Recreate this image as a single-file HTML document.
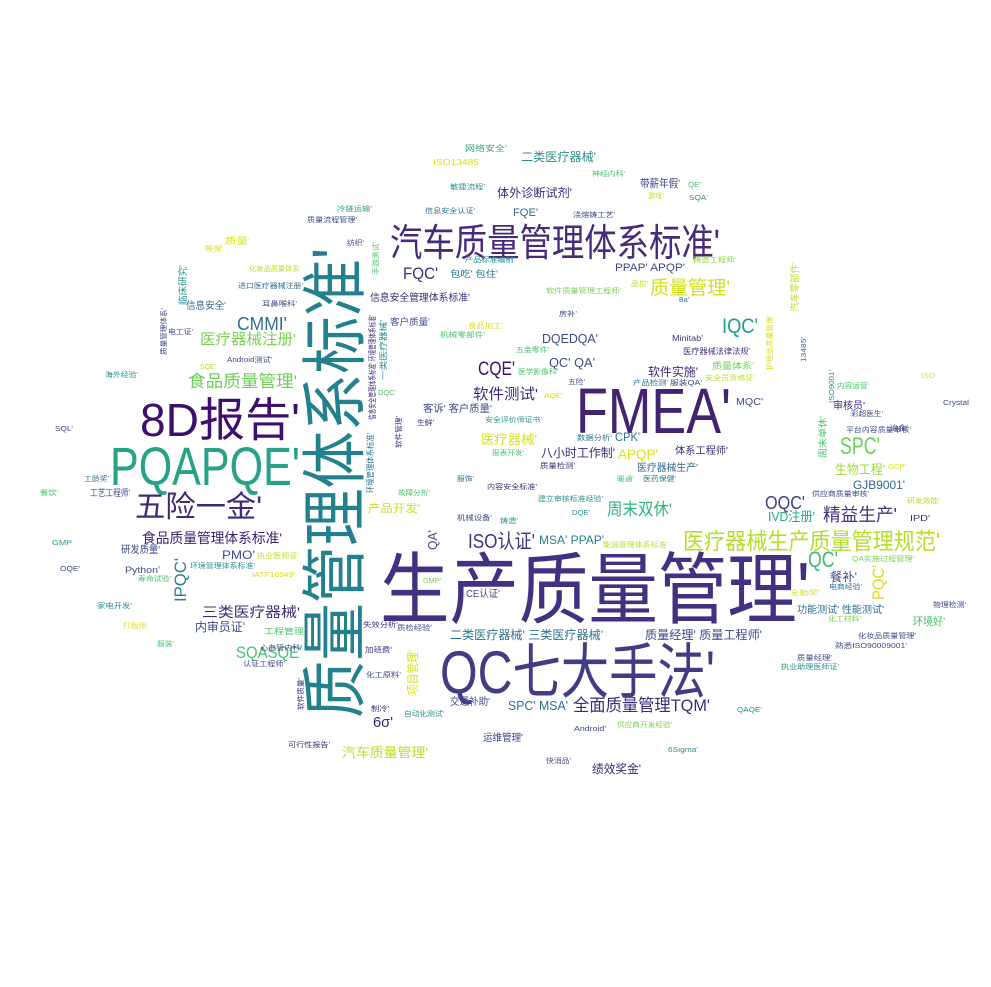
<!DOCTYPE html>
<html><head><meta charset="utf-8"><style>
html,body{margin:0;padding:0;background:#fff;width:991px;height:987px;overflow:hidden}
svg text{font-family:"Liberation Sans","Noto Sans CJK SC",sans-serif}
</style></head><body>
<svg width="991" height="987" viewBox="0 0 991 987" xmlns="http://www.w3.org/2000/svg">
<rect width="991" height="987" fill="#fff"/>
<g lengthAdjust="spacingAndGlyphs">
<text x="380" y="617" font-size="78" textLength="430" lengthAdjust="spacingAndGlyphs" fill="#433080">生产质量管理'</text>
<text x="440" y="693" font-size="60" textLength="275" lengthAdjust="spacingAndGlyphs" fill="#433c85">QC七大手法'</text>
<text x="576" y="433" font-size="64" textLength="155" lengthAdjust="spacingAndGlyphs" fill="#42236f">FMEA'</text>
<text x="140" y="436" font-size="46" textLength="160" lengthAdjust="spacingAndGlyphs" fill="#3e0f6c">8D报告'</text>
<text x="110" y="485" font-size="54" textLength="190" lengthAdjust="spacingAndGlyphs" fill="#28a287">PQAPQE'</text>
<text x="390" y="256" font-size="38" textLength="330" lengthAdjust="spacingAndGlyphs" fill="#472a7a">汽车质量管理体系标准'</text>
<text x="135" y="517" font-size="30" textLength="127" lengthAdjust="spacingAndGlyphs" fill="#402a78">五险一金'</text>
<text transform="translate(358,718) rotate(-90)" font-size="66" textLength="470" lengthAdjust="spacingAndGlyphs" fill="#23818d">质量管理体系标准'</text>
<text x="683" y="549" font-size="23" textLength="257" lengthAdjust="spacingAndGlyphs" fill="#b5de2b">医疗器械生产质量管理规范'</text>
<text x="468" y="548" font-size="20" textLength="67" lengthAdjust="spacingAndGlyphs" fill="#46307e">ISO认证'</text>
<text x="142" y="543" font-size="14" textLength="140" lengthAdjust="spacingAndGlyphs" fill="#3b1f6e">食品质量管理体系标准'</text>
<text x="823" y="521" font-size="18" textLength="74" lengthAdjust="spacingAndGlyphs" fill="#46307e">精益生产'</text>
<text x="607" y="515" font-size="17" textLength="65" lengthAdjust="spacingAndGlyphs" fill="#2fb47c">周末双休'</text>
<text x="765" y="509" font-size="18" textLength="40" lengthAdjust="spacingAndGlyphs" fill="#3f3b84">OQC'</text>
<text x="768" y="521" font-size="13" textLength="47" lengthAdjust="spacingAndGlyphs" fill="#22a884">IVD注册'</text>
<text x="840" y="454" font-size="24" textLength="40" lengthAdjust="spacingAndGlyphs" fill="#6ece58">SPC'</text>
<text x="835" y="474" font-size="13" textLength="50" lengthAdjust="spacingAndGlyphs" fill="#a0da39">生物工程'</text>
<text x="853" y="489" font-size="12" textLength="52" lengthAdjust="spacingAndGlyphs" fill="#31688e">GJB9001'</text>
<text x="808" y="567" font-size="22" textLength="30" lengthAdjust="spacingAndGlyphs" fill="#3dbc74">QC'</text>
<text transform="translate(884,600) rotate(-90)" font-size="17" textLength="35" lengthAdjust="spacingAndGlyphs" fill="#d8e219">PQC'</text>
<text transform="translate(186,602) rotate(-90)" font-size="17" textLength="44" lengthAdjust="spacingAndGlyphs" fill="#277f8e">IPQC'</text>
<text x="202" y="617" font-size="14" textLength="98" lengthAdjust="spacingAndGlyphs" fill="#3e2a78">三类医疗器械'</text>
<text x="195" y="631" font-size="12" textLength="50" lengthAdjust="spacingAndGlyphs" fill="#3e4989">内审员证'</text>
<text x="236" y="658" font-size="17" textLength="66" lengthAdjust="spacingAndGlyphs" fill="#48c16e">SQASQE'</text>
<text x="373" y="727" font-size="15" textLength="20" lengthAdjust="spacingAndGlyphs" fill="#3b1f6e">6σ'</text>
<text x="342" y="757" font-size="13" textLength="86" lengthAdjust="spacingAndGlyphs" fill="#b8de29">汽车质量管理'</text>
<text x="573" y="711" font-size="17" textLength="137" lengthAdjust="spacingAndGlyphs" fill="#3e2a78">全面质量管理TQM'</text>
<text x="508" y="710" font-size="13" textLength="60" lengthAdjust="spacingAndGlyphs" fill="#2c728e">SPC' MSA'</text>
<text x="483" y="741" font-size="10" textLength="40" lengthAdjust="spacingAndGlyphs" fill="#3e4989">运维管理'</text>
<text x="592" y="773" font-size="12" textLength="49" lengthAdjust="spacingAndGlyphs" fill="#3e2a78">绩效奖金'</text>
<text x="645" y="639" font-size="12" textLength="117" lengthAdjust="spacingAndGlyphs" fill="#3e4989">质量经理' 质量工程师'</text>
<text x="450" y="639" font-size="12" textLength="153" lengthAdjust="spacingAndGlyphs" fill="#2c728e">二类医疗器械' 三类医疗器械'</text>
<text x="466" y="597" font-size="10" textLength="34" lengthAdjust="spacingAndGlyphs" fill="#3e4989">CE认证'</text>
<text x="539" y="544" font-size="12" textLength="65" lengthAdjust="spacingAndGlyphs" fill="#287d8e">MSA' PPAP'</text>
<text x="200" y="344" font-size="15" textLength="96" lengthAdjust="spacingAndGlyphs" fill="#7ad151">医疗器械注册'</text>
<text x="237" y="330" font-size="18" textLength="50" lengthAdjust="spacingAndGlyphs" fill="#2c728e">CMMI'</text>
<text x="188" y="387" font-size="17" textLength="109" lengthAdjust="spacingAndGlyphs" fill="#6ece58">食品质量管理'</text>
<text x="403" y="279" font-size="17" textLength="35" lengthAdjust="spacingAndGlyphs" fill="#3e2a78">FQC'</text>
<text x="650" y="294" font-size="19" textLength="80" lengthAdjust="spacingAndGlyphs" fill="#d2e21b">质量管理'</text>
<text x="722" y="333" font-size="21" textLength="36" lengthAdjust="spacingAndGlyphs" fill="#1f9e89">IQC'</text>
<text x="478" y="375" font-size="19" textLength="37" lengthAdjust="spacingAndGlyphs" fill="#3b0f70">CQE'</text>
<text x="473" y="399" font-size="15" textLength="65" lengthAdjust="spacingAndGlyphs" fill="#3e2a78">软件测试'</text>
<text x="648" y="376" font-size="12" textLength="50" lengthAdjust="spacingAndGlyphs" fill="#3e2a78">软件实施'</text>
<text x="549" y="367" font-size="13" textLength="46" lengthAdjust="spacingAndGlyphs" fill="#3e4989">QC' QA'</text>
<text x="542" y="343" font-size="13" textLength="56" lengthAdjust="spacingAndGlyphs" fill="#3e4989">DQEDQA'</text>
<text x="541" y="457" font-size="12" textLength="74" lengthAdjust="spacingAndGlyphs" fill="#3e2a78">八小时工作制'</text>
<text x="618" y="459" font-size="14" textLength="40" lengthAdjust="spacingAndGlyphs" fill="#d8e219">APQP'</text>
<text x="481" y="444" font-size="13" textLength="56" lengthAdjust="spacingAndGlyphs" fill="#d8e219">医疗器械'</text>
<text x="615" y="441" font-size="12" textLength="25" lengthAdjust="spacingAndGlyphs" fill="#2c728e">CPK'</text>
<text x="675" y="454" font-size="10" textLength="53" lengthAdjust="spacingAndGlyphs" fill="#3e2a78">体系工程师'</text>
<text x="637" y="471" font-size="10" textLength="61" lengthAdjust="spacingAndGlyphs" fill="#31688e">医疗器械生产'</text>
<text x="615" y="271" font-size="11" textLength="70" lengthAdjust="spacingAndGlyphs" fill="#3e4989">PPAP' APQP'</text>
<text x="521" y="161" font-size="12" textLength="75" lengthAdjust="spacingAndGlyphs" fill="#2c8e8c">二类医疗器械'</text>
<text x="497" y="197" font-size="12" textLength="75" lengthAdjust="spacingAndGlyphs" fill="#3e2a78">体外诊断试剂'</text>
<text x="513" y="216" font-size="11" textLength="25" lengthAdjust="spacingAndGlyphs" fill="#31688e">FQE'</text>
<text x="640" y="187" font-size="11" textLength="40" lengthAdjust="spacingAndGlyphs" fill="#3e4989">带薪年假'</text>
<text x="370" y="301" font-size="10" textLength="100" lengthAdjust="spacingAndGlyphs" fill="#3e2a78">信息安全管理体系标准'</text>
<text x="390" y="325" font-size="9" textLength="40" lengthAdjust="spacingAndGlyphs" fill="#3e4989">客户质量'</text>
<text x="423" y="412" font-size="10" textLength="69" lengthAdjust="spacingAndGlyphs" fill="#3e4989">客诉' 客户质量'</text>
<text x="368" y="512" font-size="11" textLength="52" lengthAdjust="spacingAndGlyphs" fill="#c8e020">产品开发'</text>
<text transform="translate(437,550) rotate(-90)" font-size="13" textLength="20" lengthAdjust="spacingAndGlyphs" fill="#3e4989">QA'</text>
<text x="833" y="409" font-size="10" textLength="32" lengthAdjust="spacingAndGlyphs" fill="#3e2a78">审核员'</text>
<text x="222" y="559" font-size="12" textLength="33" lengthAdjust="spacingAndGlyphs" fill="#3e4989">PMO'</text>
<text x="121" y="553" font-size="10" textLength="39" lengthAdjust="spacingAndGlyphs" fill="#3e4989">研发质量'</text>
<text x="125" y="573" font-size="9" textLength="35" lengthAdjust="spacingAndGlyphs" fill="#3e4989">Python'</text>
<text transform="translate(417,695) rotate(-90)" font-size="12" textLength="45" lengthAdjust="spacingAndGlyphs" fill="#d8e219">项目管理'</text>
<text x="186" y="309" font-size="10" textLength="40" lengthAdjust="spacingAndGlyphs" fill="#31688e">信息安全'</text>
<text x="90" y="496" font-size="9" textLength="40" lengthAdjust="spacingAndGlyphs" fill="#3e4989">工艺工程师'</text>
<text x="913" y="625" font-size="11" textLength="32" lengthAdjust="spacingAndGlyphs" fill="#4ac16d">环境好'</text>
<text x="797" y="613" font-size="10" textLength="87" lengthAdjust="spacingAndGlyphs" fill="#2c728e">功能测试' 性能测试'</text>
<text x="450" y="705" font-size="10" textLength="40" lengthAdjust="spacingAndGlyphs" fill="#3e4989">交通补助'</text>
<text x="683" y="354" font-size="8" textLength="67" lengthAdjust="spacingAndGlyphs" fill="#46307e">医疗器械法律法规'</text>
<text x="672" y="341" font-size="8" textLength="31" lengthAdjust="spacingAndGlyphs" fill="#46307e">Minitab'</text>
<text x="736" y="405" font-size="10" textLength="27" lengthAdjust="spacingAndGlyphs" fill="#3e4989">MQC'</text>
<text x="830" y="581" font-size="12" textLength="27" lengthAdjust="spacingAndGlyphs" fill="#3e4989">餐补'</text>
<text x="465" y="151" font-size="8" textLength="42" lengthAdjust="spacingAndGlyphs" fill="#3aa37a">网络安全'</text>
<text x="433" y="165" font-size="8" textLength="48" lengthAdjust="spacingAndGlyphs" fill="#d8e219">ISO13485'</text>
<text x="450" y="189" font-size="7" textLength="35" lengthAdjust="spacingAndGlyphs" fill="#2c8e8c">敏捷流程'</text>
<text x="425" y="213" font-size="7" textLength="50" lengthAdjust="spacingAndGlyphs" fill="#2c728e">信息安全认证'</text>
<text x="337" y="211" font-size="7" textLength="35" lengthAdjust="spacingAndGlyphs" fill="#2aa382">冷链运输'</text>
<text x="307" y="222" font-size="7" textLength="50" lengthAdjust="spacingAndGlyphs" fill="#3e4989">质量流程管理'</text>
<text x="225" y="244" font-size="9" textLength="25" lengthAdjust="spacingAndGlyphs" fill="#d8e219">质量'</text>
<text x="249" y="271" font-size="7" textLength="52" lengthAdjust="spacingAndGlyphs" fill="#b8de29">化妆品质量体系'</text>
<text x="238" y="288" font-size="7" textLength="65" lengthAdjust="spacingAndGlyphs" fill="#31688e">进口医疗器械注册'</text>
<text x="262" y="306" font-size="7" textLength="35" lengthAdjust="spacingAndGlyphs" fill="#3e4989">耳鼻喉科'</text>
<text x="450" y="277" font-size="9" textLength="48" lengthAdjust="spacingAndGlyphs" fill="#2c728e">包吃' 包住'</text>
<text x="546" y="293" font-size="7" textLength="75" lengthAdjust="spacingAndGlyphs" fill="#7ad151">软件质量管理工程师'</text>
<text x="693" y="262" font-size="7" textLength="43" lengthAdjust="spacingAndGlyphs" fill="#8ed645">铸造工程师'</text>
<text x="573" y="217" font-size="7" textLength="42" lengthAdjust="spacingAndGlyphs" fill="#3e4989">浇熔铸工艺'</text>
<text x="592" y="176" font-size="7" textLength="33" lengthAdjust="spacingAndGlyphs" fill="#4ac16d">神经内科'</text>
<text x="705" y="380" font-size="7" textLength="50" lengthAdjust="spacingAndGlyphs" fill="#b8de29">安全员资格证'</text>
<text x="712" y="369" font-size="9" textLength="42" lengthAdjust="spacingAndGlyphs" fill="#6ece58">质量体系'</text>
<text transform="translate(798,312) rotate(-90)" font-size="9" textLength="50" lengthAdjust="spacingAndGlyphs" fill="#b8de29">汽车零部件'</text>
<text transform="translate(772,370) rotate(-90)" font-size="7" textLength="55" lengthAdjust="spacingAndGlyphs" fill="#d8e219">护理品质量管理'</text>
<text transform="translate(806,362) rotate(-90)" font-size="7" textLength="25" lengthAdjust="spacingAndGlyphs" fill="#2c728e">13485'</text>
<text transform="translate(834,403) rotate(-90)" font-size="7" textLength="33" lengthAdjust="spacingAndGlyphs" fill="#2c8e8c">ISO9001'</text>
<text transform="translate(826,458) rotate(-90)" font-size="9" textLength="42" lengthAdjust="spacingAndGlyphs" fill="#4ac16d">周末单休'</text>
<text x="846" y="432" font-size="7" textLength="65" lengthAdjust="spacingAndGlyphs" fill="#3e4989">平台内容质量审核'</text>
<text x="943" y="405" font-size="7" textLength="26" lengthAdjust="spacingAndGlyphs" fill="#3e4989">Crystal</text>
<text x="812" y="496" font-size="7" textLength="57" lengthAdjust="spacingAndGlyphs" fill="#3e4989">供应商质量审核'</text>
<text x="910" y="521" font-size="8" textLength="20" lengthAdjust="spacingAndGlyphs" fill="#3e2a78">IPD'</text>
<text x="852" y="561" font-size="7" textLength="62" lengthAdjust="spacingAndGlyphs" fill="#7ad151">QA实施过程管理'</text>
<text x="858" y="638" font-size="7" textLength="58" lengthAdjust="spacingAndGlyphs" fill="#3e4989">化妆品质量管理'</text>
<text x="835" y="648" font-size="7" textLength="72" lengthAdjust="spacingAndGlyphs" fill="#3e4989">熟悉ISO90009001'</text>
<text x="797" y="660" font-size="7" textLength="35" lengthAdjust="spacingAndGlyphs" fill="#3e4989">质量经理'</text>
<text x="781" y="669" font-size="7" textLength="58" lengthAdjust="spacingAndGlyphs" fill="#2c8e8c">执业助理医师证'</text>
<text x="737" y="712" font-size="7" textLength="25" lengthAdjust="spacingAndGlyphs" fill="#2c8e8c">QAQE'</text>
<text x="574" y="731" font-size="7" textLength="32" lengthAdjust="spacingAndGlyphs" fill="#3e4989">Android'</text>
<text x="617" y="727" font-size="7" textLength="55" lengthAdjust="spacingAndGlyphs" fill="#7ad151">供应商开发经验'</text>
<text x="668" y="752" font-size="7" textLength="30" lengthAdjust="spacingAndGlyphs" fill="#2c8e8c">6Sigma'</text>
<text x="546" y="763" font-size="7" textLength="25" lengthAdjust="spacingAndGlyphs" fill="#3e4989">快消品'</text>
<text x="288" y="747" font-size="7" textLength="42" lengthAdjust="spacingAndGlyphs" fill="#3e2a78">可行性报告'</text>
<text x="190" y="568" font-size="7" textLength="65" lengthAdjust="spacingAndGlyphs" fill="#2c8e8c">环境管理体系标准'</text>
<text x="257" y="558" font-size="7" textLength="42" lengthAdjust="spacingAndGlyphs" fill="#b8de29">执业医师证'</text>
<text x="252" y="577" font-size="7" textLength="43" lengthAdjust="spacingAndGlyphs" fill="#d8e219">IATF16949'</text>
<text x="138" y="581" font-size="7" textLength="33" lengthAdjust="spacingAndGlyphs" fill="#4ac16d">寿命试验'</text>
<text x="97" y="608" font-size="7" textLength="35" lengthAdjust="spacingAndGlyphs" fill="#2c8e8c">家电开发'</text>
<text x="264" y="634" font-size="8" textLength="42" lengthAdjust="spacingAndGlyphs" fill="#4ac16d">工程管理'</text>
<text x="243" y="666" font-size="7" textLength="42" lengthAdjust="spacingAndGlyphs" fill="#3e4989">认证工程师'</text>
<text x="260" y="650" font-size="7" textLength="42" lengthAdjust="spacingAndGlyphs" fill="#3e4989">心血管内科'</text>
<text x="52" y="545" font-size="7" textLength="20" lengthAdjust="spacingAndGlyphs" fill="#2c8e8c">GMP</text>
<text x="60" y="571" font-size="7" textLength="20" lengthAdjust="spacingAndGlyphs" fill="#3e4989">OQE'</text>
<text x="40" y="495" font-size="7" textLength="18" lengthAdjust="spacingAndGlyphs" fill="#4ac16d">餐饮'</text>
<text x="55" y="431" font-size="7" textLength="18" lengthAdjust="spacingAndGlyphs" fill="#3e4989">SQL'</text>
<text x="105" y="377" font-size="7" textLength="33" lengthAdjust="spacingAndGlyphs" fill="#2c8e8c">海外经验'</text>
<text x="227" y="362" font-size="7" textLength="45" lengthAdjust="spacingAndGlyphs" fill="#3e4989">Android测试'</text>
<text x="168" y="334" font-size="7" textLength="25" lengthAdjust="spacingAndGlyphs" fill="#3e4989">电工证'</text>
<text transform="translate(186,305) rotate(-90)" font-size="9" textLength="40" lengthAdjust="spacingAndGlyphs" fill="#2c8e8c">临床研究'</text>
<text transform="translate(166,355) rotate(-90)" font-size="7" textLength="47" lengthAdjust="spacingAndGlyphs" fill="#3e4989">质量管理体系'</text>
<text transform="translate(375,420) rotate(-90)" font-size="8" textLength="105" lengthAdjust="spacingAndGlyphs" fill="#3e2a78">信息安全管理体系标准' 环境管理体系标准'</text>
<text transform="translate(386,380) rotate(-90)" font-size="8" textLength="60" lengthAdjust="spacingAndGlyphs" fill="#2c8e8c">一类医疗器械'</text>
<text transform="translate(373,493) rotate(-90)" font-size="8" textLength="60" lengthAdjust="spacingAndGlyphs" fill="#2c728e">环境管理体系标准'</text>
<text transform="translate(378,275) rotate(-90)" font-size="7" textLength="33" lengthAdjust="spacingAndGlyphs" fill="#4ac16d">手游测试'</text>
<text transform="translate(401,448) rotate(-90)" font-size="7" textLength="32" lengthAdjust="spacingAndGlyphs" fill="#3e2a78">软件管理'</text>
<text transform="translate(303,710) rotate(-90)" font-size="7" textLength="32" lengthAdjust="spacingAndGlyphs" fill="#3e2a78">软件质量'</text>
<text x="485" y="422" font-size="7" textLength="57" lengthAdjust="spacingAndGlyphs" fill="#2c8e8c">安全评价师证书'</text>
<text x="577" y="440" font-size="7" textLength="35" lengthAdjust="spacingAndGlyphs" fill="#2c728e">数据分析'</text>
<text x="540" y="468" font-size="7" textLength="35" lengthAdjust="spacingAndGlyphs" fill="#3e2a78">质量检测'</text>
<text x="487" y="489" font-size="7" textLength="50" lengthAdjust="spacingAndGlyphs" fill="#3e2a78">内容安全标准'</text>
<text x="538" y="501" font-size="7" textLength="65" lengthAdjust="spacingAndGlyphs" fill="#2c8e8c">建立审核标准经验'</text>
<text x="572" y="515" font-size="7" textLength="18" lengthAdjust="spacingAndGlyphs" fill="#2c8e8c">DQE'</text>
<text x="457" y="520" font-size="7" textLength="35" lengthAdjust="spacingAndGlyphs" fill="#3e4989">机械设备'</text>
<text x="500" y="523" font-size="7" textLength="18" lengthAdjust="spacingAndGlyphs" fill="#2c8e8c">铸造'</text>
<text x="603" y="547" font-size="7" textLength="65" lengthAdjust="spacingAndGlyphs" fill="#b8de29">能源管理体系标准'</text>
<text x="363" y="627" font-size="7" textLength="35" lengthAdjust="spacingAndGlyphs" fill="#3e2a78">失效分析'</text>
<text x="397" y="630" font-size="7" textLength="35" lengthAdjust="spacingAndGlyphs" fill="#3e4989">质检经验'</text>
<text x="365" y="652" font-size="7" textLength="27" lengthAdjust="spacingAndGlyphs" fill="#3e2a78">加班费'</text>
<text x="366" y="677" font-size="7" textLength="35" lengthAdjust="spacingAndGlyphs" fill="#3e4989">化工原料'</text>
<text x="371" y="711" font-size="7" textLength="18" lengthAdjust="spacingAndGlyphs" fill="#3e2a78">制冷'</text>
<text x="404" y="716" font-size="7" textLength="40" lengthAdjust="spacingAndGlyphs" fill="#2c8e8c">自动化测试'</text>
<text x="790" y="595" font-size="7" textLength="30" lengthAdjust="spacingAndGlyphs" fill="#d8e219">全勤奖'</text>
<text x="829" y="589" font-size="7" textLength="33" lengthAdjust="spacingAndGlyphs" fill="#2c728e">电商经验'</text>
<text x="828" y="621" font-size="7" textLength="33" lengthAdjust="spacingAndGlyphs" fill="#7ad151">化工材料'</text>
<text x="933" y="607" font-size="7" textLength="33" lengthAdjust="spacingAndGlyphs" fill="#3e4989">物理检测'</text>
<text x="907" y="503" font-size="7" textLength="33" lengthAdjust="spacingAndGlyphs" fill="#b8de29">研发效能'</text>
<text x="890" y="430" font-size="7" textLength="18" lengthAdjust="spacingAndGlyphs" fill="#3e4989">冶金'</text>
<text x="888" y="469" font-size="7" textLength="18" lengthAdjust="spacingAndGlyphs" fill="#d8e219">GCP'</text>
<text x="921" y="378" font-size="7" textLength="14" lengthAdjust="spacingAndGlyphs" fill="#d8e219">ISO</text>
<text x="837" y="388" font-size="7" textLength="32" lengthAdjust="spacingAndGlyphs" fill="#4ac16d">内容运营'</text>
<text x="851" y="416" font-size="7" textLength="32" lengthAdjust="spacingAndGlyphs" fill="#3e4989">彩超医生'</text>
<text x="688" y="187" font-size="7" textLength="13" lengthAdjust="spacingAndGlyphs" fill="#4ac16d">QE'</text>
<text x="689" y="200" font-size="7" textLength="19" lengthAdjust="spacingAndGlyphs" fill="#2c8e8c">SQA'</text>
<text x="648" y="198" font-size="7" textLength="15" lengthAdjust="spacingAndGlyphs" fill="#b8de29">游戏'</text>
<text x="465" y="262" font-size="7" textLength="50" lengthAdjust="spacingAndGlyphs" fill="#2c8e8c">产品标准编制'</text>
<text x="440" y="337" font-size="7" textLength="45" lengthAdjust="spacingAndGlyphs" fill="#4ac16d">机械零部件'</text>
<text x="468" y="328" font-size="7" textLength="35" lengthAdjust="spacingAndGlyphs" fill="#d8e219">食品加工'</text>
<text x="516" y="352" font-size="7" textLength="33" lengthAdjust="spacingAndGlyphs" fill="#4ac16d">五金零件'</text>
<text x="518" y="374" font-size="7" textLength="40" lengthAdjust="spacingAndGlyphs" fill="#4ac16d">医学影像科'</text>
<text x="544" y="398" font-size="7" textLength="19" lengthAdjust="spacingAndGlyphs" fill="#d8e219">AQE'</text>
<text x="559" y="316" font-size="7" textLength="18" lengthAdjust="spacingAndGlyphs" fill="#3e4989">房补'</text>
<text x="633" y="385" font-size="7" textLength="35" lengthAdjust="spacingAndGlyphs" fill="#2c728e">产品检测'</text>
<text x="670" y="385" font-size="7" textLength="32" lengthAdjust="spacingAndGlyphs" fill="#3e4989">服装QA'</text>
<text x="568" y="384" font-size="7" textLength="17" lengthAdjust="spacingAndGlyphs" fill="#3e4989">五险'</text>
<text x="679" y="302" font-size="7" textLength="10" lengthAdjust="spacingAndGlyphs" fill="#2c728e">Ba'</text>
<text x="631" y="286" font-size="7" textLength="17" lengthAdjust="spacingAndGlyphs" fill="#b8de29">品控'</text>
<text x="492" y="455" font-size="7" textLength="32" lengthAdjust="spacingAndGlyphs" fill="#4ac16d">报表开发'</text>
<text x="617" y="481" font-size="7" textLength="17" lengthAdjust="spacingAndGlyphs" fill="#4ac16d">暖通'</text>
<text x="643" y="481" font-size="7" textLength="33" lengthAdjust="spacingAndGlyphs" fill="#2c728e">医药保健'</text>
<text x="457" y="481" font-size="7" textLength="17" lengthAdjust="spacingAndGlyphs" fill="#2c728e">服饰'</text>
<text x="398" y="495" font-size="7" textLength="32" lengthAdjust="spacingAndGlyphs" fill="#4ac16d">故障分析'</text>
<text x="423" y="583" font-size="7" textLength="18" lengthAdjust="spacingAndGlyphs" fill="#7ad151">GMP'</text>
<text x="84" y="481" font-size="7" textLength="25" lengthAdjust="spacingAndGlyphs" fill="#2c728e">工龄奖'</text>
<text x="123" y="628" font-size="7" textLength="25" lengthAdjust="spacingAndGlyphs" fill="#d8e219">打版师'</text>
<text x="157" y="646" font-size="7" textLength="17" lengthAdjust="spacingAndGlyphs" fill="#4ac16d">服装'</text>
<text x="347" y="245" font-size="7" textLength="17" lengthAdjust="spacingAndGlyphs" fill="#3e4989">纺织'</text>
<text x="205" y="251" font-size="7" textLength="18" lengthAdjust="spacingAndGlyphs" fill="#d8e219">等保'</text>
<text x="200" y="369" font-size="7" textLength="16" lengthAdjust="spacingAndGlyphs" fill="#b8de29">SQE'</text>
<text x="378" y="395" font-size="7" textLength="18" lengthAdjust="spacingAndGlyphs" fill="#4ac16d">DQC'</text>
<text x="417" y="425" font-size="7" textLength="17" lengthAdjust="spacingAndGlyphs" fill="#3e2a78">生鲜'</text>
</g>
</svg>
</body></html>
